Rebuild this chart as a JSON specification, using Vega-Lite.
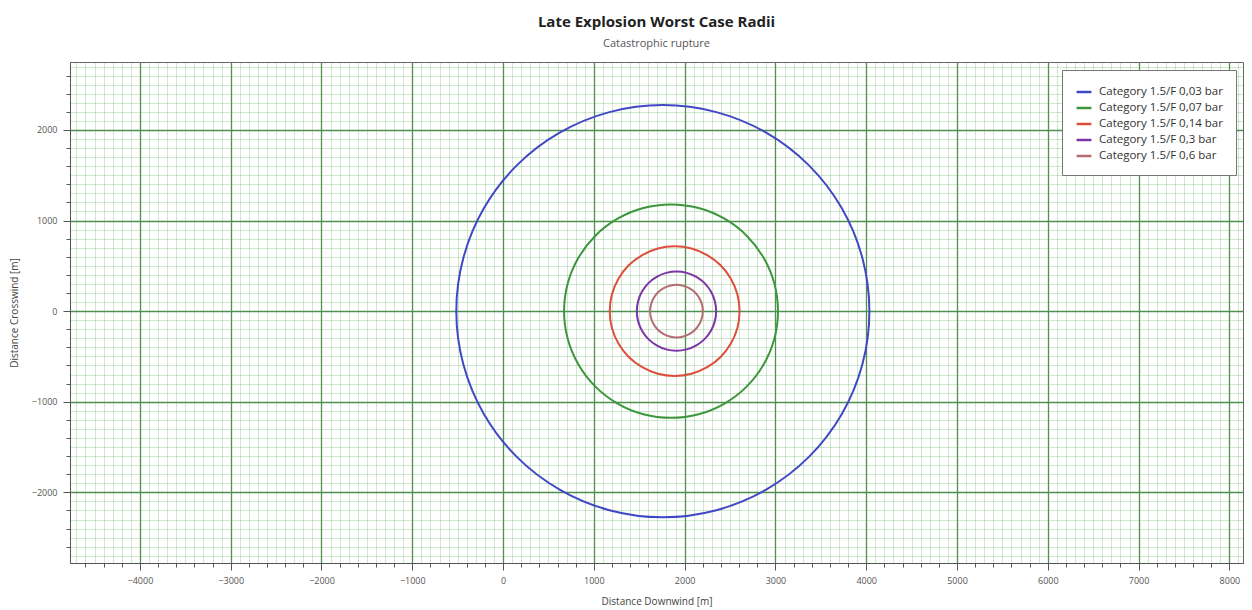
{
  "$schema": "https://vega.github.io/schema/vega-lite/v6.json",
  "width": 1173,
  "height": 501,
  "autosize": {"type": "none"},
  "padding": {"left": 70, "top": 62, "right": 9, "bottom": 47},
  "background": "white",
  "title": {
    "text": "Late Explosion Worst Case Radii",
    "subtitle": "Catastrophic rupture",
    "font": "Open Sans",
    "fontSize": 15,
    "fontWeight": "bold",
    "color": "#222222",
    "subtitleFont": "Open Sans",
    "subtitleFontSize": 11,
    "subtitleColor": "#555555",
    "anchor": "middle",
    "offset": 13,
    "subtitlePadding": 8
  },
  "config": {
    "view": {"stroke": "#666666", "strokeWidth": 1},
    "axis": {"labelFont": "Open Sans", "titleFont": "Open Sans", "labelColor": "#555555", "titleColor": "#444444", "labelFontSize": 9, "titleFontSize": 10, "titleFontWeight": "normal"}
  },
  "data": {
    "values": [
      {"c": "Category 1.5/F 0,03 bar", "i": 0, "x": 4035, "y": 0},
      {"c": "Category 1.5/F 0,03 bar", "i": 1, "x": 3957, "y": 589},
      {"c": "Category 1.5/F 0,03 bar", "i": 2, "x": 3730, "y": 1138},
      {"c": "Category 1.5/F 0,03 bar", "i": 3, "x": 3369, "y": 1609},
      {"c": "Category 1.5/F 0,03 bar", "i": 4, "x": 2898, "y": 1970},
      {"c": "Category 1.5/F 0,03 bar", "i": 5, "x": 2349, "y": 2197},
      {"c": "Category 1.5/F 0,03 bar", "i": 6, "x": 1760, "y": 2275},
      {"c": "Category 1.5/F 0,03 bar", "i": 7, "x": 1171, "y": 2197},
      {"c": "Category 1.5/F 0,03 bar", "i": 8, "x": 623, "y": 1970},
      {"c": "Category 1.5/F 0,03 bar", "i": 9, "x": 151, "y": 1609},
      {"c": "Category 1.5/F 0,03 bar", "i": 10, "x": -210, "y": 1138},
      {"c": "Category 1.5/F 0,03 bar", "i": 11, "x": -437, "y": 589},
      {"c": "Category 1.5/F 0,03 bar", "i": 12, "x": -515, "y": 0},
      {"c": "Category 1.5/F 0,03 bar", "i": 13, "x": -437, "y": -589},
      {"c": "Category 1.5/F 0,03 bar", "i": 14, "x": -210, "y": -1138},
      {"c": "Category 1.5/F 0,03 bar", "i": 15, "x": 151, "y": -1609},
      {"c": "Category 1.5/F 0,03 bar", "i": 16, "x": 623, "y": -1970},
      {"c": "Category 1.5/F 0,03 bar", "i": 17, "x": 1171, "y": -2197},
      {"c": "Category 1.5/F 0,03 bar", "i": 18, "x": 1760, "y": -2275},
      {"c": "Category 1.5/F 0,03 bar", "i": 19, "x": 2349, "y": -2197},
      {"c": "Category 1.5/F 0,03 bar", "i": 20, "x": 2898, "y": -1970},
      {"c": "Category 1.5/F 0,03 bar", "i": 21, "x": 3369, "y": -1609},
      {"c": "Category 1.5/F 0,03 bar", "i": 22, "x": 3730, "y": -1138},
      {"c": "Category 1.5/F 0,03 bar", "i": 23, "x": 3957, "y": -589},

      {"c": "Category 1.5/F 0,07 bar", "i": 0, "x": 3028, "y": 0},
      {"c": "Category 1.5/F 0,07 bar", "i": 1, "x": 2988, "y": 305},
      {"c": "Category 1.5/F 0,07 bar", "i": 2, "x": 2870, "y": 589},
      {"c": "Category 1.5/F 0,07 bar", "i": 3, "x": 2683, "y": 833},
      {"c": "Category 1.5/F 0,07 bar", "i": 4, "x": 2439, "y": 1020},
      {"c": "Category 1.5/F 0,07 bar", "i": 5, "x": 2155, "y": 1138},
      {"c": "Category 1.5/F 0,07 bar", "i": 6, "x": 1850, "y": 1178},
      {"c": "Category 1.5/F 0,07 bar", "i": 7, "x": 1545, "y": 1138},
      {"c": "Category 1.5/F 0,07 bar", "i": 8, "x": 1261, "y": 1020},
      {"c": "Category 1.5/F 0,07 bar", "i": 9, "x": 1017, "y": 833},
      {"c": "Category 1.5/F 0,07 bar", "i": 10, "x": 830, "y": 589},
      {"c": "Category 1.5/F 0,07 bar", "i": 11, "x": 712, "y": 305},
      {"c": "Category 1.5/F 0,07 bar", "i": 12, "x": 672, "y": 0},
      {"c": "Category 1.5/F 0,07 bar", "i": 13, "x": 712, "y": -305},
      {"c": "Category 1.5/F 0,07 bar", "i": 14, "x": 830, "y": -589},
      {"c": "Category 1.5/F 0,07 bar", "i": 15, "x": 1017, "y": -833},
      {"c": "Category 1.5/F 0,07 bar", "i": 16, "x": 1261, "y": -1020},
      {"c": "Category 1.5/F 0,07 bar", "i": 17, "x": 1545, "y": -1138},
      {"c": "Category 1.5/F 0,07 bar", "i": 18, "x": 1850, "y": -1178},
      {"c": "Category 1.5/F 0,07 bar", "i": 19, "x": 2155, "y": -1138},
      {"c": "Category 1.5/F 0,07 bar", "i": 20, "x": 2439, "y": -1020},
      {"c": "Category 1.5/F 0,07 bar", "i": 21, "x": 2683, "y": -833},
      {"c": "Category 1.5/F 0,07 bar", "i": 22, "x": 2870, "y": -589},
      {"c": "Category 1.5/F 0,07 bar", "i": 23, "x": 2988, "y": -305},

      {"c": "Category 1.5/F 0,14 bar", "i": 0, "x": 2605, "y": 0},
      {"c": "Category 1.5/F 0,14 bar", "i": 1, "x": 2581, "y": 185},
      {"c": "Category 1.5/F 0,14 bar", "i": 2, "x": 2509, "y": 358},
      {"c": "Category 1.5/F 0,14 bar", "i": 3, "x": 2396, "y": 506},
      {"c": "Category 1.5/F 0,14 bar", "i": 4, "x": 2248, "y": 619},
      {"c": "Category 1.5/F 0,14 bar", "i": 5, "x": 2075, "y": 691},
      {"c": "Category 1.5/F 0,14 bar", "i": 6, "x": 1890, "y": 715},
      {"c": "Category 1.5/F 0,14 bar", "i": 7, "x": 1705, "y": 691},
      {"c": "Category 1.5/F 0,14 bar", "i": 8, "x": 1533, "y": 619},
      {"c": "Category 1.5/F 0,14 bar", "i": 9, "x": 1384, "y": 506},
      {"c": "Category 1.5/F 0,14 bar", "i": 10, "x": 1271, "y": 358},
      {"c": "Category 1.5/F 0,14 bar", "i": 11, "x": 1199, "y": 185},
      {"c": "Category 1.5/F 0,14 bar", "i": 12, "x": 1175, "y": 0},
      {"c": "Category 1.5/F 0,14 bar", "i": 13, "x": 1199, "y": -185},
      {"c": "Category 1.5/F 0,14 bar", "i": 14, "x": 1271, "y": -358},
      {"c": "Category 1.5/F 0,14 bar", "i": 15, "x": 1384, "y": -506},
      {"c": "Category 1.5/F 0,14 bar", "i": 16, "x": 1533, "y": -619},
      {"c": "Category 1.5/F 0,14 bar", "i": 17, "x": 1705, "y": -691},
      {"c": "Category 1.5/F 0,14 bar", "i": 18, "x": 1890, "y": -715},
      {"c": "Category 1.5/F 0,14 bar", "i": 19, "x": 2075, "y": -691},
      {"c": "Category 1.5/F 0,14 bar", "i": 20, "x": 2248, "y": -619},
      {"c": "Category 1.5/F 0,14 bar", "i": 21, "x": 2396, "y": -506},
      {"c": "Category 1.5/F 0,14 bar", "i": 22, "x": 2509, "y": -358},
      {"c": "Category 1.5/F 0,14 bar", "i": 23, "x": 2581, "y": -185},

      {"c": "Category 1.5/F 0,3 bar", "i": 0, "x": 2347, "y": 0},
      {"c": "Category 1.5/F 0,3 bar", "i": 1, "x": 2332, "y": 113},
      {"c": "Category 1.5/F 0,3 bar", "i": 2, "x": 2288, "y": 219},
      {"c": "Category 1.5/F 0,3 bar", "i": 3, "x": 2219, "y": 309},
      {"c": "Category 1.5/F 0,3 bar", "i": 4, "x": 2129, "y": 378},
      {"c": "Category 1.5/F 0,3 bar", "i": 5, "x": 2023, "y": 422},
      {"c": "Category 1.5/F 0,3 bar", "i": 6, "x": 1910, "y": 437},
      {"c": "Category 1.5/F 0,3 bar", "i": 7, "x": 1797, "y": 422},
      {"c": "Category 1.5/F 0,3 bar", "i": 8, "x": 1692, "y": 378},
      {"c": "Category 1.5/F 0,3 bar", "i": 9, "x": 1601, "y": 309},
      {"c": "Category 1.5/F 0,3 bar", "i": 10, "x": 1532, "y": 219},
      {"c": "Category 1.5/F 0,3 bar", "i": 11, "x": 1488, "y": 113},
      {"c": "Category 1.5/F 0,3 bar", "i": 12, "x": 1473, "y": 0},
      {"c": "Category 1.5/F 0,3 bar", "i": 13, "x": 1488, "y": -113},
      {"c": "Category 1.5/F 0,3 bar", "i": 14, "x": 1532, "y": -219},
      {"c": "Category 1.5/F 0,3 bar", "i": 15, "x": 1601, "y": -309},
      {"c": "Category 1.5/F 0,3 bar", "i": 16, "x": 1692, "y": -378},
      {"c": "Category 1.5/F 0,3 bar", "i": 17, "x": 1797, "y": -422},
      {"c": "Category 1.5/F 0,3 bar", "i": 18, "x": 1910, "y": -437},
      {"c": "Category 1.5/F 0,3 bar", "i": 19, "x": 2023, "y": -422},
      {"c": "Category 1.5/F 0,3 bar", "i": 20, "x": 2129, "y": -378},
      {"c": "Category 1.5/F 0,3 bar", "i": 21, "x": 2219, "y": -309},
      {"c": "Category 1.5/F 0,3 bar", "i": 22, "x": 2288, "y": -219},
      {"c": "Category 1.5/F 0,3 bar", "i": 23, "x": 2332, "y": -113},

      {"c": "Category 1.5/F 0,6 bar", "i": 0, "x": 2200, "y": 0},
      {"c": "Category 1.5/F 0,6 bar", "i": 1, "x": 2190, "y": 75},
      {"c": "Category 1.5/F 0,6 bar", "i": 2, "x": 2161, "y": 145},
      {"c": "Category 1.5/F 0,6 bar", "i": 3, "x": 2115, "y": 205},
      {"c": "Category 1.5/F 0,6 bar", "i": 4, "x": 2055, "y": 251},
      {"c": "Category 1.5/F 0,6 bar", "i": 5, "x": 1985, "y": 280},
      {"c": "Category 1.5/F 0,6 bar", "i": 6, "x": 1910, "y": 290},
      {"c": "Category 1.5/F 0,6 bar", "i": 7, "x": 1835, "y": 280},
      {"c": "Category 1.5/F 0,6 bar", "i": 8, "x": 1765, "y": 251},
      {"c": "Category 1.5/F 0,6 bar", "i": 9, "x": 1705, "y": 205},
      {"c": "Category 1.5/F 0,6 bar", "i": 10, "x": 1659, "y": 145},
      {"c": "Category 1.5/F 0,6 bar", "i": 11, "x": 1630, "y": 75},
      {"c": "Category 1.5/F 0,6 bar", "i": 12, "x": 1620, "y": 0},
      {"c": "Category 1.5/F 0,6 bar", "i": 13, "x": 1630, "y": -75},
      {"c": "Category 1.5/F 0,6 bar", "i": 14, "x": 1659, "y": -145},
      {"c": "Category 1.5/F 0,6 bar", "i": 15, "x": 1705, "y": -205},
      {"c": "Category 1.5/F 0,6 bar", "i": 16, "x": 1765, "y": -251},
      {"c": "Category 1.5/F 0,6 bar", "i": 17, "x": 1835, "y": -280},
      {"c": "Category 1.5/F 0,6 bar", "i": 18, "x": 1910, "y": -290},
      {"c": "Category 1.5/F 0,6 bar", "i": 19, "x": 1985, "y": -280},
      {"c": "Category 1.5/F 0,6 bar", "i": 20, "x": 2055, "y": -251},
      {"c": "Category 1.5/F 0,6 bar", "i": 21, "x": 2115, "y": -205},
      {"c": "Category 1.5/F 0,6 bar", "i": 22, "x": 2161, "y": -145},
      {"c": "Category 1.5/F 0,6 bar", "i": 23, "x": 2190, "y": -75}
    ]
  },
  "layer": [
    {
      "mark": {"type": "point", "opacity": 0},
      "encoding": {
        "x": {"field": "x", "type": "quantitative", "scale": {"domain": [-4770, 8150], "nice": false, "zero": false},
          "axis": {"orient": "bottom", "grid": true, "gridColor": "#40a040", "gridOpacity": 0.25, "gridWidth": 1, "tickCount": 130, "labels": false, "ticks": false, "domain": false, "title": null}},
        "y": {"field": "y", "type": "quantitative", "scale": {"domain": [-2780, 2750], "nice": false, "zero": false},
          "axis": {"orient": "left", "grid": true, "gridColor": "#40a040", "gridOpacity": 0.25, "gridWidth": 1, "tickCount": 56, "labels": false, "ticks": false, "domain": false, "title": null}}
      }
    },
    {
      "mark": {"type": "point", "opacity": 0},
      "encoding": {
        "x": {"field": "x", "type": "quantitative", "scale": {"domain": [-4770, 8150], "nice": false, "zero": false},
          "axis": {"orient": "bottom", "grid": false, "tickCount": 65, "labels": false, "ticks": true, "tickSize": 4, "tickColor": "#555555", "domain": false, "title": null}},
        "y": {"field": "y", "type": "quantitative", "scale": {"domain": [-2780, 2750], "nice": false, "zero": false},
          "axis": {"orient": "left", "grid": false, "tickCount": 28, "labels": false, "ticks": true, "tickSize": 4, "tickColor": "#555555", "domain": false, "title": null}}
      }
    },
    {
      "mark": {"type": "line", "interpolate": "cardinal-closed", "strokeWidth": 2},
      "encoding": {
        "x": {"field": "x", "type": "quantitative", "scale": {"domain": [-4770, 8150], "nice": false, "zero": false},
          "axis": {"orient": "bottom", "grid": true, "gridColor": "#4f8f4f", "gridWidth": 1.3,
            "values": [-4000, -3000, -2000, -1000, 0, 1000, 2000, 3000, 4000, 5000, 6000, 7000, 8000],
            "format": "d", "tickSize": 7, "tickColor": "#555555", "labelPadding": 6,
            "domain": true, "domainColor": "#555555", "title": "Distance Downwind [m]", "titlePadding": 11}},
        "y": {"field": "y", "type": "quantitative", "scale": {"domain": [-2780, 2750], "nice": false, "zero": false},
          "axis": {"orient": "left", "grid": true, "gridColor": "#4f8f4f", "gridWidth": 1.3,
            "values": [-2000, -1000, 0, 1000, 2000],
            "format": "d", "tickSize": 7, "tickColor": "#555555", "labelPadding": 6,
            "domain": true, "domainColor": "#555555", "title": "Distance Crosswind [m]", "titlePadding": 12}},
        "color": {"field": "c", "type": "nominal",
          "scale": {"domain": ["Category 1.5/F 0,03 bar", "Category 1.5/F 0,07 bar", "Category 1.5/F 0,14 bar", "Category 1.5/F 0,3 bar", "Category 1.5/F 0,6 bar"],
            "range": ["#4048c4", "#3c963c", "#de4e3c", "#7d35a5", "#b46c72"]},
          "legend": {"orient": "none", "legendX": 992, "legendY": 8, "title": null,
            "strokeColor": "#777777", "fillColor": "white", "padding": 13,
            "symbolType": "stroke", "symbolStrokeWidth": 2.5, "symbolSize": 220,
            "labelFont": "Open Sans", "labelFontSize": 11.5, "labelColor": "#333333",
            "rowPadding": 1, "labelOffset": 6}},
        "order": {"field": "i", "type": "quantitative"}
      }
    }
  ],
  "resolve": {"axis": {"x": "independent", "y": "independent"}}
}
